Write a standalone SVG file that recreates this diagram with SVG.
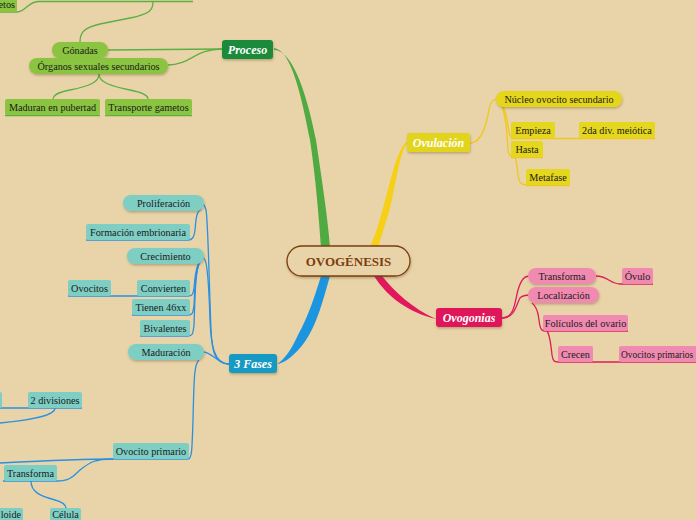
<svg xmlns="http://www.w3.org/2000/svg" width="696" height="520" viewBox="0 0 696 520">
<defs>
<filter id="sh" x="-20%" y="-30%" width="140%" height="170%"><feDropShadow dx="0.5" dy="1.5" stdDeviation="0.8" flood-color="#5a4020" flood-opacity="0.35"/></filter>
<style>
text{font-family:"Liberation Serif","DejaVu Serif",serif;font-size:10.2px;fill:#1a1a1a;text-anchor:middle}
.main{font-weight:bold;font-style:italic;fill:#fff;font-size:12px}
.root{font-weight:bold;fill:#7A3E10;font-size:13px}
.g{fill:#8BC441}.y{fill:#E5D61E}.p{fill:#F18AB0}.t{fill:#7ECEC4}
.cg{fill:none;stroke:#5CAF45;stroke-width:1.3}
.cy{fill:none;stroke:#F0C81C;stroke-width:1.3}
.cp{fill:none;stroke:#DC1D5A;stroke-width:1.3}
.cb{fill:none;stroke:#2A90E2;stroke-width:1.3}
</style>
</defs>
<rect width="696" height="520" fill="#E9D4A9"/>
<g id="connectors">
<path d="M274,48 C292,50 302,100 310,140 C316,180 319,220 321,247 L330,247 C328,220 322,180 316,140 C308,100 294,50 274,50 Z" fill="#4FAA42"/>
<path d="M407,142 C396,148 389,190 381,215 C377,230 373,240 370,247 L378,247 C381,238 385,225 389,212 C395,190 400,150 407,144 Z" fill="#F6CF17"/>
<path d="M374,276 L382,276 C395,292 412,308 436,319 C410,313 388,298 374,276 Z" fill="#E2185C"/>
<path d="M321,276 L330,276 C323,300 316,330 300,348 C291,358 284,363 277,364 C285,359 291,350 298,335 C309,315 315,295 321,276 Z" fill="#1C95E0"/>
<path class="cg" d="M222,49 L108,50"/>
<path class="cg" d="M222,49 C195,49 190,65 168,65"/>
<path class="cg" d="M80,42 C80,32 84,28 100,24 L130,18 C150,14 153,10 153,2"/>
<path class="cg" d="M38,1.5 L193,1.5"/>
<path class="cg" d="M0,12 L17,12 C25,12 28,2 38,1.5"/>
<path class="cg" d="M99,74 C99,82 90,86 70,90 C55,93 53,96 53,99"/>
<path class="cg" d="M99,74 C99,82 110,86 130,90 C145,93 148,96 148,99"/>
<path class="cg" d="M5,115.5 L100,115.5 M105,115.5 L192,115.5"/>
<path class="cy" d="M470,143 C480,143 485,130 488,115 C490,100 494,99 498,99"/>
<path class="cy" d="M500,103 C506,108 507,120 509,132 C510,137 511,138 515,138"/>
<path class="cy" d="M500,103 C506,110 507,135 508,150 C509,156 511,157 515,157"/>
<path class="cy" d="M515,157 C516,160 517,165 518,175 C519,183 521,185 528,185"/>
<path class="cy" d="M511,138.5 L655,138.5 M511,157.5 L543,157.5 M526,185.5 L570,185.5"/>
<path class="cp" d="M502,318 C515,318 515,300 518,290 C521,280 524,276 530,276"/>
<path class="cp" d="M502,318 C515,318 516,305 520,298 C523,295 526,295 530,295"/>
<path class="cp" d="M596,276 C608,276 610,284 620,284 L653,284"/>
<path class="cp" d="M532,303 C536,306 538,310 539,320 C540,328 541,331 545,331 L628,331"/>
<path class="cp" d="M547,331 C550,335 551,345 552,355 C553,361 554,362 558,362 L696,362"/>
<path class="cb" d="M229,364 C214,364 212,350 211,330 C209,280 208,220 206,210 C205,205 203,203 200,203"/>
<path class="cb" d="M229,364 C214,364 211,345 210,320 C209,290 208,265 205,260 C203,257 202,256 200,256"/>
<path class="cb" d="M229,364 C218,364 212,352 203,352"/>
<path class="cb" d="M201,209 C196,212 196,220 195,230 C194,238 192,240 188,240 L86,240"/>
<path class="cb" d="M200,262 C195,266 195,280 194,288 C193,295 192,296 188,296 L68,296"/>
<path class="cb" d="M200,262 C195,268 195,290 194,305 C193,314 192,315 188,315 L132,315"/>
<path class="cb" d="M200,262 C195,270 195,300 194,325 C193,335 192,336 188,336 L140,336"/>
<path class="cb" d="M199,360 C194,364 194,380 193,420 C192,450 192,459 188,459 L113,459"/>
<path class="cb" d="M113,459 C80,459 40,461 0,463"/>
<path class="cb" d="M113,459 C95,459 90,462 80,470 C72,478 68,481 57,481 L3,481"/>
<path class="cb" d="M31,481 C31,492 40,496 55,500 C62,502 66,505 66,508"/>
<path class="cb" d="M0,408 L82,408"/>
<path class="cb" d="M55,408 C55,416 30,420 0,423"/>
</g>
<g id="root"><rect x="287" y="246" width="123" height="30" rx="15" fill="#E9D4A9" stroke="#7A3E10" stroke-width="1.3" filter="url(#sh)"/><text class="root" x="348.5" y="265.5">OVOGÉNESIS</text></g>
<g id="proceso"><rect x="222" y="40" width="51" height="19" rx="3" fill="#1B8A3A" filter="url(#sh)"/><text class="main" x="247.5" y="53.5">Proceso</text></g>
<g id="gonadas"><rect x="52" y="42" width="56" height="16" rx="8" class="g" filter="url(#sh)"/><text x="80" y="53.5">Gónadas</text></g>
<g id="organos"><rect x="29" y="58" width="139" height="16" rx="8" class="g" filter="url(#sh)"/><text x="98.5" y="69.5">Órganos sexuales secundarios</text></g>
<g id="maduran"><rect x="5" y="99" width="95" height="16" rx="2" class="g"/><text x="52.5" y="110.5">Maduran en pubertad</text></g>
<g id="transporte"><rect x="105" y="99" width="87" height="16" rx="2" class="g"/><text x="148.5" y="110.5">Transporte gametos</text></g>
<g id="etos"><rect x="-40" y="-4" width="57" height="16" rx="2" class="g"/><text x="15" y="8" style="text-anchor:end">etos</text></g>
<g id="ovulacion"><rect x="407" y="133" width="63" height="19" rx="3" fill="#E2D41C" filter="url(#sh)"/><text class="main" x="438.5" y="146.5">Ovulación</text></g>
<g id="nucleo"><rect x="496" y="91" width="126" height="16" rx="8" class="y" filter="url(#sh)"/><text x="559" y="102.5">Núcleo ovocito secundario</text></g>
<g id="empieza"><rect x="511" y="122" width="44" height="16" rx="2" class="y"/><text x="533" y="133.5">Empieza</text></g>
<g id="segunda"><rect x="579" y="122" width="76" height="16" rx="2" class="y"/><text x="617" y="133.5">2da div. meiótica</text></g>
<g id="hasta"><rect x="511" y="141" width="32" height="16" rx="2" class="y"/><text x="527" y="152.5">Hasta</text></g>
<g id="metafase"><rect x="526" y="169" width="44" height="16" rx="2" class="y"/><text x="548" y="180.5">Metafase</text></g>
<g id="ovogonias"><rect x="436" y="308" width="66" height="19" rx="3" fill="#E0185A" filter="url(#sh)"/><text class="main" x="469" y="321.5">Ovogonias</text></g>
<g id="transforma-p"><rect x="528" y="268" width="68" height="16" rx="8" class="p" filter="url(#sh)"/><text x="562" y="279.5">Transforma</text></g>
<g id="localizacion"><rect x="528" y="287" width="71" height="16" rx="8" class="p" filter="url(#sh)"/><text x="563.5" y="298.5">Localización</text></g>
<g id="ovulo"><rect x="622" y="268" width="31" height="16" rx="2" class="p"/><text x="637.5" y="279.5">Óvulo</text></g>
<g id="foliculos"><rect x="543" y="315" width="85" height="16" rx="2" class="p"/><text x="585.5" y="326.5">Folículos del ovario</text></g>
<g id="crecen"><rect x="558" y="346" width="35" height="16" rx="2" class="p"/><text x="575.5" y="357.5">Crecen</text></g>
<g id="ovocitos-primarios"><rect x="619" y="346" width="90" height="16" rx="2" class="p"/><text x="621" y="357.5" style="text-anchor:start;font-size:9.4px">Ovocitos primarios</text></g>
<g id="fases"><rect x="229" y="354" width="48" height="19" rx="3" fill="#1599C2" filter="url(#sh)"/><text class="main" x="253" y="367.5">3 Fases</text></g>
<g id="proliferacion"><rect x="123" y="195" width="81" height="16" rx="8" class="t" filter="url(#sh)"/><text x="163.5" y="206.5">Proliferación</text></g>
<g id="formacion"><rect x="86" y="224" width="104" height="16" rx="2" class="t"/><text x="138" y="235.5">Formación embrionaria</text></g>
<g id="crecimiento"><rect x="127" y="248" width="77" height="16" rx="8" class="t" filter="url(#sh)"/><text x="165.5" y="259.5">Crecimiento</text></g>
<g id="ovocitos"><rect x="68" y="280" width="43" height="16" rx="2" class="t"/><text x="89.5" y="291.5">Ovocitos</text></g>
<g id="convierten"><rect x="137" y="280" width="53" height="16" rx="2" class="t"/><text x="163.5" y="291.5">Convierten</text></g>
<g id="tienen"><rect x="132" y="299" width="58" height="16" rx="2" class="t"/><text x="161" y="310.5">Tienen 46xx</text></g>
<g id="bivalentes"><rect x="140" y="320" width="50" height="16" rx="2" class="t"/><text x="165" y="331.5">Bivalentes</text></g>
<g id="maduracion"><rect x="128" y="344" width="76" height="16" rx="8" class="t" filter="url(#sh)"/><text x="166" y="355.5">Maduración</text></g>
<g id="dos-divisiones"><rect x="-10" y="392" width="12" height="16" rx="2" class="t"/><rect x="28" y="392" width="54" height="16" rx="2" class="t"/><text x="55" y="403.5">2 divisiones</text></g>
<g id="ovocito-primario"><rect x="113" y="443" width="76" height="16" rx="2" class="t"/><text x="151" y="454.5">Ovocito primario</text></g>
<g id="transforma-b"><rect x="4" y="465" width="53" height="16" rx="2" class="t"/><text x="30.5" y="476.5">Transforma</text></g>
<g id="celula"><rect x="50" y="508" width="31" height="16" rx="2" class="t"/><text x="65.5" y="518">Célula</text></g>
<g id="haploide"><rect x="-20" y="508" width="43" height="16" rx="2" class="t"/><text x="21" y="518" style="text-anchor:end">loide</text></g>
</svg>
